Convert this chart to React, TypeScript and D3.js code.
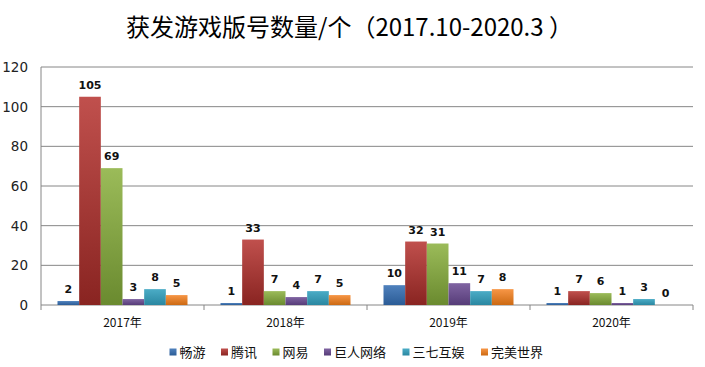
import React from "react";
import * as d3 from "d3";

const categories = ["2017年", "2018年", "2019年", "2020年"];
const seriesNames = ["畅游", "腾讯", "网易", "巨人网络", "三七互娱", "完美世界"];
const changyou = [2, 1, 10, 1];
const tencent = [105, 33, 32, 7];
const netease = [69, 7, 31, 6];
const giant = [3, 4, 11, 1];
const sanqi = [8, 7, 7, 3];
const perfect = [5, 5, 8, 0];
const yTicks = [0, 20, 40, 60, 80, 100, 120];
const seriesValues = [changyou, tencent, netease, giant, sanqi, perfect];
const colorsTop = ["#4f81bd", "#c0504d", "#9bbb59", "#8064a2", "#4bacc6", "#f79646"];
const colorsBottom = ["#2b5c96", "#892421", "#6a8a2f", "#563c78", "#2a87a1", "#cc6912"];

const W = 705, H = 367;
const left = 41, right = 693, top = 67, bottom = 305;

export default function App() {
  const x0 = d3.scaleBand().domain(categories).range([left, right]).paddingInner(0).paddingOuter(0);
  const x1 = d3.scaleBand().domain(seriesNames).range([16.5, x0.bandwidth() - 16.5]).padding(0);
  const y = d3.scaleLinear().domain([0, 120]).range([bottom, top]);
  const numFont = "'DejaVu Sans', Verdana, sans-serif";
  const cjk = "'Noto Sans CJK SC', sans-serif";
  const legendX = [169.5, 221, 272.5, 324, 402.5, 481];
  return (
    <svg width={W} height={H} style={{ position: "absolute", left: 0, top: 0 }}>
      <defs>
        {colorsTop.map((c, i) => (
          <linearGradient key={i} id={`g${i}`} x1="0" y1="0" x2="0" y2="1">
            <stop offset="0" stopColor={c} />
            <stop offset="1" stopColor={colorsBottom[i]} />
          </linearGradient>
        ))}
      </defs>
      <rect width={W} height={H} fill="#fff" />
      <text x={126} y={36} textAnchor="start" fontFamily={cjk} fontSize={24} fill="#000">
        获发游戏版号数量/个（2017.10-2020.3 ）
      </text>
      {yTicks.map((t) => (
        <g key={t}>
          <line x1={left} x2={right} y1={y(t)} y2={y(t)} stroke="#868686" strokeWidth={1} />
          <text x={28} y={y(t) + 5} textAnchor="end" fontFamily={numFont} fontSize={13.5} fill="#222">
            {t}
          </text>
        </g>
      ))}
      <line x1={left} x2={left} y1={top} y2={bottom} stroke="#868686" />
      {categories.map((c, i) => (
        <line key={c} x1={x0(c)! + x0.bandwidth()} x2={x0(c)! + x0.bandwidth()} y1={bottom} y2={bottom + 5} stroke="#868686" />
      ))}
      <line x1={left} x2={left} y1={bottom} y2={bottom + 5} stroke="#868686" />
      {seriesValues.map((vals, si) =>
        vals.map((v, ci) => {
          const bx = x0(categories[ci])! + x1(seriesNames[si])!;
          const bw = x1.bandwidth();
          return (
            <g key={`${si}-${ci}`}>
              {v > 0 && (
                <rect x={bx} y={y(v)} width={bw} height={bottom - y(v)} fill={`url(#g${si})`} />
              )}
              <text x={bx + bw / 2} y={y(v) - 8} textAnchor="middle" fontFamily={numFont} fontWeight="bold" fontSize={11} fill="#111">
                {v}
              </text>
            </g>
          );
        })
      )}
      {categories.map((c) => (
        <text key={c} x={x0(c)! + x0.bandwidth() / 2} y={327} textAnchor="middle" fontFamily={cjk} fontSize={12} fill="#111">
          {c}
        </text>
      ))}
      {seriesNames.map((s, i) => (
        <g key={s}>
          <rect x={legendX[i]} y={348.5} width={7} height={7} fill={`url(#g${i})`} />
          <text x={legendX[i] + 10} y={357} fontFamily={cjk} fontSize={13} fill="#111">
            {s}
          </text>
        </g>
      ))}
    </svg>
  );
}
